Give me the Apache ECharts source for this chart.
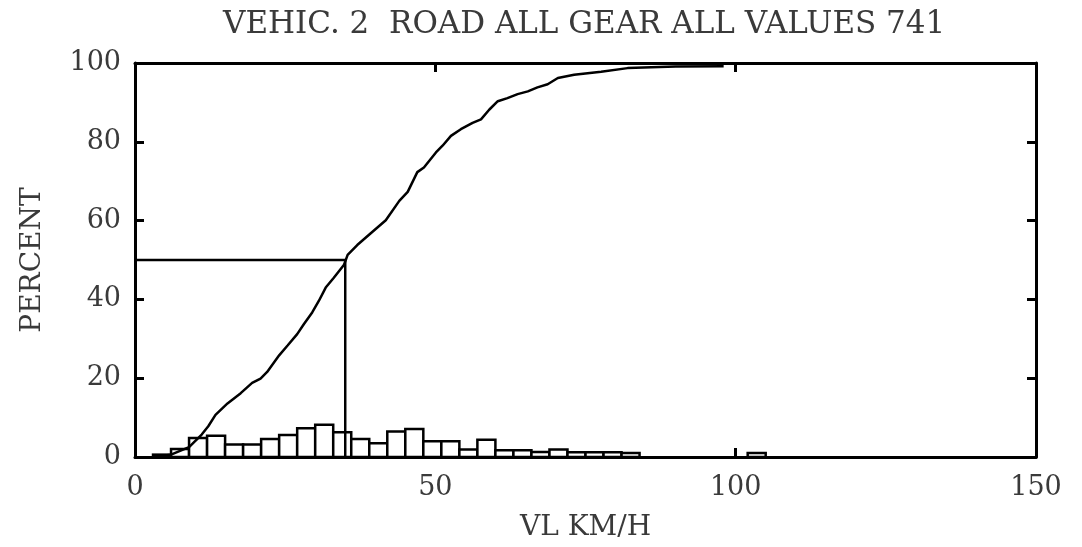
<!DOCTYPE html>
<html>
<head>
<meta charset="utf-8">
<script src="https://cdn.jsdelivr.net/npm/echarts@6/dist/echarts.min.js"></script>
<style>
  html, body { margin: 0; padding: 0; background: #ffffff; }
  #chart { width: 1082px; height: 547px; }
</style>
</head>
<body>
<div id="chart"></div>
<script>
// ---- data ----
const chartTitle = 'VEHIC. 2  ROAD ALL GEAR ALL VALUES 741';
const xAxisName = 'VL KM/H';
const yAxisName = 'PERCENT';

const xTicks = [0, 50, 100, 150];
const yTicks = [0, 20, 40, 60, 80, 100];

// histogram: left edge of each 3 km/h class and its percentage
const binWidth = 3;
const binStart = [3, 6, 9, 12, 15, 18, 21, 24, 27, 30, 33, 36, 39, 42, 45, 48, 51, 54, 57, 60, 63, 66, 69, 72, 75, 78, 81, 102];
const binPercent = [0.6, 2.0, 4.8, 5.4, 3.2, 3.2, 4.6, 5.6, 7.3, 8.2, 6.3, 4.6, 3.5, 6.5, 7.1, 4.0, 4.0, 1.9, 4.4, 1.7, 1.7, 1.3, 1.9, 1.2, 1.2, 1.2, 1.0, 1.0];

// cumulative curve
const cdfSpeed = [3, 6, 9, 11.1, 12.2, 13.4, 15.4, 17.6, 19.5, 20.9, 22.0, 24.0, 25.4, 27.0, 28.1, 29.5, 30.6, 31.75, 33.1, 34.8, 35.4, 37.0, 39.25, 41.75, 44.0, 45.4, 47.0, 48.1, 50.1, 51.2, 52.6, 54.25, 56.2, 57.6, 59.0, 60.4, 62.0, 63.7, 65.4, 67.0, 68.7, 70.4, 73.1, 77.6, 82.0, 90.0, 98.0];
const cdfPercent = [0, 0.6, 2.5, 5.7, 7.8, 10.7, 13.6, 16.2, 18.8, 19.9, 21.6, 25.8, 28.3, 31.2, 33.7, 36.7, 39.6, 43.0, 45.5, 48.8, 51.3, 53.8, 56.8, 60.1, 65.0, 67.3, 72.3, 73.5, 77.3, 79.0, 81.5, 83.2, 84.8, 85.7, 88.2, 90.3, 91.1, 92.1, 92.8, 93.8, 94.6, 96.2, 97.0, 97.8, 98.7, 99.1, 99.2];

// median marker
const medianSpeed = 35;
const medianPercent = 50;

// ---- chart ----
const FONT = 'DejaVu Serif';
const TXT = '#3a3a3a';

const histData = binStart.map((s, i) => [s, s + binWidth, binPercent[i]]);
const cdfData = cdfSpeed.map((s, i) => [s, cdfPercent[i]]);
const medianData = [[xTicks[0], medianPercent], [medianSpeed, medianPercent], [medianSpeed, yTicks[0]]];

function axisBase() {
  return {
    type: 'value',
    splitLine: { show: false },
    axisLine: { show: true, onZero: false, lineStyle: { color: '#000', width: 3 } },
    axisTick: { show: true, inside: true, length: 9, lineStyle: { color: '#000', width: 3 } }
  };
}

const chart = echarts.init(document.getElementById('chart'), null, { renderer: 'canvas' });
chart.setOption({
  backgroundColor: '#ffffff',
  animation: false,
  title: [
    {
      text: chartTitle,
      left: 218,
      top: 4,
      textStyle: { fontFamily: FONT, fontSize: 31, fontWeight: 'normal', color: TXT }
    }
  ],
  grid: { left: 135, right: 46, top: 63, bottom: 86 },
  xAxis: [
    Object.assign(axisBase(), {
      position: 'bottom',
      min: xTicks[0], max: xTicks[xTicks.length - 1], interval: xTicks[1] - xTicks[0],
      name: xAxisName, nameLocation: 'middle', nameGap: 57,
      nameTextStyle: { fontFamily: FONT, fontSize: 28, color: TXT },
      axisLabel: { fontFamily: FONT, fontSize: 27, color: TXT, margin: 17 }
    }),
    Object.assign(axisBase(), {
      position: 'top',
      min: xTicks[0], max: xTicks[xTicks.length - 1], interval: xTicks[1] - xTicks[0],
      axisLabel: { show: false }
    })
  ],
  yAxis: [
    Object.assign(axisBase(), {
      position: 'left',
      min: yTicks[0], max: yTicks[yTicks.length - 1], interval: yTicks[1] - yTicks[0],
      name: yAxisName, nameLocation: 'middle', nameGap: 88,
      nameTextStyle: { fontFamily: FONT, fontSize: 28, color: TXT },
      axisLabel: { fontFamily: FONT, fontSize: 27, color: TXT, margin: 14 }
    }),
    Object.assign(axisBase(), {
      position: 'right',
      min: yTicks[0], max: yTicks[yTicks.length - 1], interval: yTicks[1] - yTicks[0],
      axisLabel: { show: false }
    })
  ],
  series: [
    {
      type: 'custom',
      xAxisIndex: 0, yAxisIndex: 0,
      data: histData,
      z: 2,
      renderItem: function (params, api) {
        const p0 = api.coord([api.value(0), 0]);
        const p1 = api.coord([api.value(1), api.value(2)]);
        return {
          type: 'rect',
          shape: { x: p0[0], y: p1[1], width: p1[0] - p0[0], height: p0[1] - p1[1] },
          style: { fill: '#ffffff', stroke: '#000000', lineWidth: 2.5 }
        };
      }
    },
    {
      type: 'line',
      xAxisIndex: 0, yAxisIndex: 0,
      data: cdfData,
      showSymbol: false,
      z: 3,
      lineStyle: { color: '#000', width: 2.5 }
    },
    {
      type: 'line',
      xAxisIndex: 0, yAxisIndex: 0,
      data: medianData,
      showSymbol: false,
      z: 3,
      lineStyle: { color: '#000', width: 2.5 }
    }
  ]
});
</script>
</body>
</html>
